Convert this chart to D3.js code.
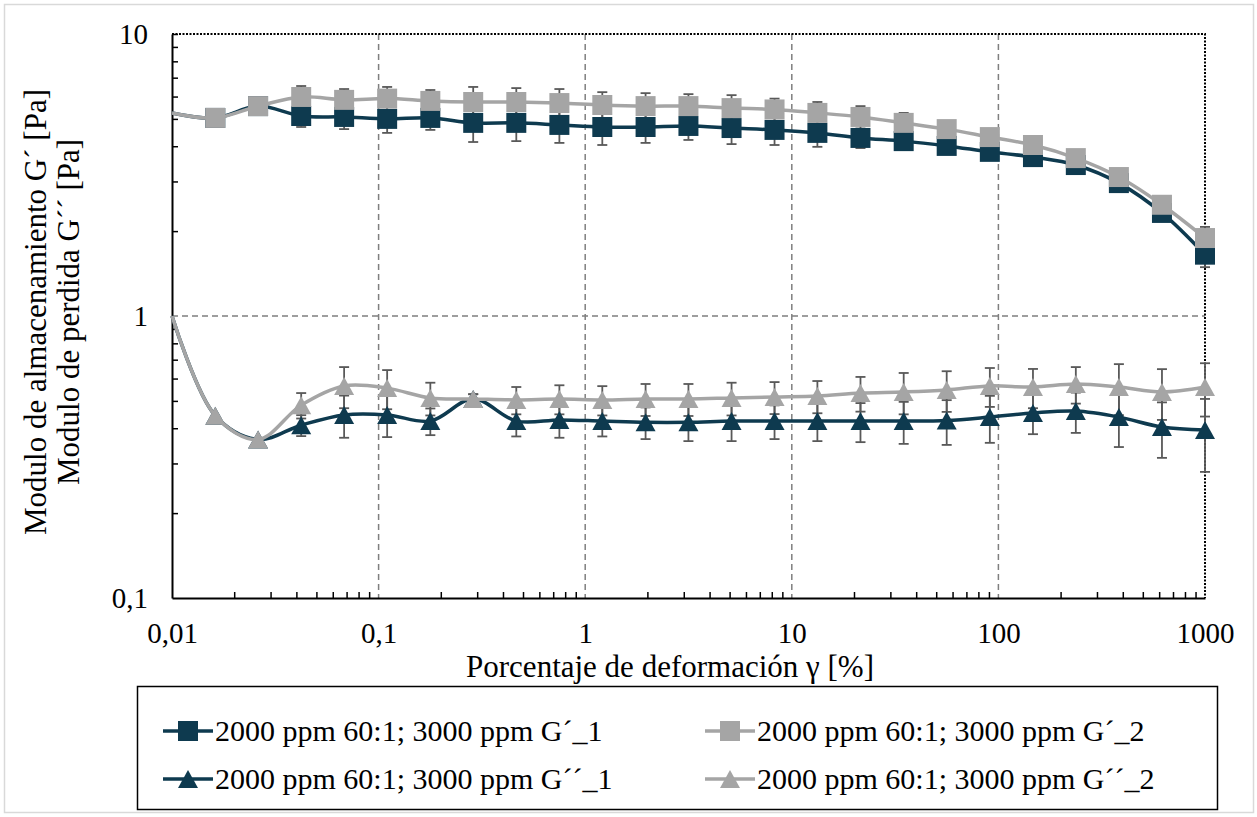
<!DOCTYPE html>
<html>
<head>
<meta charset="utf-8">
<script src="https://cdn.jsdelivr.net/npm/d3@7"></script>
<style>
  body { margin: 0; background: #fff; }
  svg text { font-family: "Liberation Serif", "Tinos", "Times New Roman", Times, "DejaVu Serif", "Noto Serif", serif; fill: #000; }
</style>
</head>
<body>
<div id="chart"></div>
<script>
// strain values (%)
const strain = [0.01, 0.0162, 0.0261, 0.0422, 0.0681, 0.110, 0.178, 0.287, 0.464, 0.750, 1.21, 1.96, 3.16, 5.11, 8.25, 13.3, 21.5, 34.8, 56.2, 90.9, 147, 237, 383, 619, 1000];
// storage modulus G' (Pa)
const gp1 = [5.25, 5.04, 5.55, 5.12, 5.08, 5.0, 5.04, 4.84, 4.84, 4.76, 4.68, 4.68, 4.72, 4.64, 4.57, 4.46, 4.28, 4.17, 4.01, 3.82, 3.66, 3.43, 2.96, 2.32, 1.65];
const gp2 = [5.25, 5.04, 5.55, 5.98, 5.84, 5.9, 5.79, 5.74, 5.74, 5.69, 5.6, 5.55, 5.55, 5.46, 5.4, 5.25, 5.08, 4.84, 4.6, 4.31, 4.04, 3.63, 3.11, 2.48, 1.89];
const gp1Err = [0, 0, 0, 0.44, 0.48, 0.54, 0.47, 0.7, 0.67, 0.65, 0.64, 0.57, 0.51, 0.57, 0.53, 0.48, 0.34, 0.29, 0.2, 0.1, 0.08, 0.05, 0.05, 0.08, 0.16];
const gp2Err = [0, 0, 0, 0.56, 0.54, 0.59, 0.54, 0.75, 0.69, 0.69, 0.62, 0.62, 0.57, 0.61, 0.5, 0.49, 0.47, 0.41, 0.25, 0.15, 0.1, 0.08, 0.08, 0.1, 0.18];
// loss modulus G'' (Pa)
const gpp1 = [1.0, 0.443, 0.365, 0.41, 0.446, 0.446, 0.424, 0.508, 0.424, 0.428, 0.424, 0.42, 0.42, 0.424, 0.424, 0.424, 0.424, 0.424, 0.426, 0.438, 0.453, 0.46, 0.438, 0.404, 0.394];
const gpp2 = [1.0, 0.443, 0.365, 0.483, 0.565, 0.555, 0.512, 0.508, 0.504, 0.508, 0.504, 0.508, 0.508, 0.512, 0.516, 0.52, 0.533, 0.538, 0.547, 0.565, 0.56, 0.574, 0.56, 0.538, 0.56];
const gpp1Err = [0, 0, 0, 0.035, 0.076, 0.074, 0.046, 0.02, 0.05, 0.058, 0.05, 0.054, 0.06, 0.064, 0.058, 0.064, 0.067, 0.072, 0.077, 0.083, 0.072, 0.075, 0.095, 0.09, 0.114];
const gpp2Err = [0, 0, 0, 0.05, 0.094, 0.088, 0.068, 0.02, 0.056, 0.06, 0.06, 0.066, 0.066, 0.068, 0.067, 0.068, 0.075, 0.09, 0.09, 0.089, 0.089, 0.085, 0.115, 0.11, 0.12];

const seriesNames = ["2000 ppm 60:1; 3000 ppm G´_1", "2000 ppm 60:1; 3000 ppm G´_2",
                     "2000 ppm 60:1; 3000 ppm G´´_1", "2000 ppm 60:1; 3000 ppm G´´_2"];
const xTicks = [0.01, 0.1, 1, 10, 100, 1000];
const yTicks = [0.1, 1, 10];

const dark = "#0e3a4f", light = "#a5a5a5", errColor = "#595959";
const series = [
  {name: seriesNames[0], vals: gp1, err: gp1Err, color: dark, shape: "square"},
  {name: seriesNames[1], vals: gp2, err: gp2Err, color: light, shape: "square"},
  {name: seriesNames[2], vals: gpp1, err: gpp1Err, color: dark, shape: "triangle"},
  {name: seriesNames[3], vals: gpp2, err: gpp2Err, color: light, shape: "triangle"}
];

const width = 1257, height = 817;
const plotL = 172, plotR = 1205, plotT = 34, plotB = 598;
const serif = '"Liberation Serif", "Tinos", "Times New Roman", Times, "DejaVu Serif", "Noto Serif", serif';

const svg = d3.select("#chart").append("svg")
    .attr("width", width).attr("height", height)
    .attr("font-family", serif);

svg.append("rect").attr("x", 4.5).attr("y", 4.5).attr("width", 1249).attr("height", 808)
    .attr("fill", "#fff").attr("stroke", "#d9d9d9").attr("stroke-width", 1.5);

const x = d3.scaleLog().domain([0.01, 1000]).range([plotL, plotR]);
const y = d3.scaleLog().domain([0.1, 10]).range([plotB, plotT]);
const comma = d => String(d).replace(".", ",");

// grid
svg.append("g").selectAll("line").data([0.1, 1, 10, 100]).enter().append("line")
    .attr("x1", d => x(d)).attr("x2", d => x(d)).attr("y1", plotT).attr("y2", plotB)
    .attr("stroke", "#7f7f7f").attr("stroke-width", 1.5).attr("stroke-dasharray", "6,4");
svg.append("line").attr("x1", plotL).attr("x2", plotR).attr("y1", y(1)).attr("y2", y(1))
    .attr("stroke", "#7f7f7f").attr("stroke-width", 1.5).attr("stroke-dasharray", "6,4");
// dotted top/right frame
svg.append("path").attr("d", `M${plotL},${y(10)}H${x(1000)}V${plotB}`)
    .attr("fill", "none").attr("stroke", "#000").attr("stroke-width", 2).attr("stroke-dasharray", "2,1.5");

// minor ticks (inward)
const minorX = [], minorY = [];
[0.01, 0.1, 1, 10, 100].forEach(d => { for (let k = 2; k <= 9; k++) minorX.push(d * k); });
[0.1, 1].forEach(d => { for (let k = 2; k <= 9; k++) minorY.push(d * k); });
minorY.push(10);

svg.append("g").attr("transform", `translate(${plotL},0)`)
    .call(d3.axisRight(y).tickValues(minorY).tickSize(6).tickSizeOuter(0).tickFormat(""))
    .call(g => g.selectAll("line").attr("stroke", "#000").attr("stroke-width", 1.5))
    .call(g => g.select(".domain").attr("stroke", "#000").attr("stroke-width", 2));
svg.append("g").attr("transform", `translate(0,${plotB})`)
    .call(d3.axisTop(x).tickValues(minorX).tickSize(6).tickSizeOuter(0).tickFormat(""))
    .call(g => g.selectAll("line").attr("stroke", "#000").attr("stroke-width", 1.5))
    .call(g => g.select(".domain").attr("stroke", "#000").attr("stroke-width", 2));

// tick labels
svg.append("g").attr("transform", `translate(${plotL},0)`)
    .call(d3.axisLeft(y).tickValues(yTicks).tickSize(0).tickPadding(24).tickFormat(comma))
    .attr("font-family", serif).attr("font-size", 29)
    .call(g => g.select(".domain").remove());
svg.append("g").attr("transform", `translate(0,${plotB})`)
    .call(d3.axisBottom(x).tickValues(xTicks).tickSize(0).tickPadding(24).tickFormat(comma))
    .attr("font-family", serif).attr("font-size", 29)
    .call(g => g.select(".domain").remove());

// axis titles
svg.append("text").attr("x", 670).attr("y", 677).attr("text-anchor", "middle")
    .attr("font-size", 31).text("Porcentaje de deformación γ [%]");
const yt = svg.append("g").attr("transform", "translate(35,312) rotate(-90)");
yt.append("text").attr("text-anchor", "middle").attr("dy", "0.35em")
    .attr("font-size", 31).text("Modulo de almacenamiento G´ [Pa]");
yt.append("text").attr("text-anchor", "middle").attr("dy", "0.35em").attr("y", 33)
    .attr("font-size", 31).text("Modulo de perdida G´´ [Pa]");

const markerPath = shape => shape === "square"
  ? "M-10,-10H10V10H-10Z"
  : "M0,-9L10,9H-10Z";

// error bars
series.forEach(s => {
  const g = svg.append("g").attr("stroke", errColor).attr("stroke-width", 1.8);
  s.vals.forEach((v, i) => {
    if (!s.err[i]) return;
    const cx = x(strain[i]), y1 = y(v + s.err[i]), y2 = y(v - s.err[i]);
    g.append("line").attr("x1", cx).attr("x2", cx).attr("y1", y1).attr("y2", y2);
    g.append("line").attr("x1", cx - 5).attr("x2", cx + 5).attr("y1", y1).attr("y2", y1);
    g.append("line").attr("x1", cx - 5).attr("x2", cx + 5).attr("y1", y2).attr("y2", y2);
  });
});

// lines + markers
const line = d3.line().x((d, i) => x(strain[i])).y(d => y(d)).curve(d3.curveCatmullRom.alpha(0.5));
series.forEach(s => {
  svg.append("path").datum(s.vals).attr("d", line)
      .attr("fill", "none").attr("stroke", s.color).attr("stroke-width", 3.5);
  svg.append("g").selectAll("path").data(s.vals.slice(1)).enter().append("path")
      .attr("d", markerPath(s.shape))
      .attr("transform", (d, i) => `translate(${x(strain[i + 1])},${y(d)})`)
      .attr("fill", s.color);
});

// legend
svg.append("rect").attr("x", 137.5).attr("y", 686.5).attr("width", 1080).attr("height", 123)
    .attr("fill", "none").attr("stroke", "#000").attr("stroke-width", 1.5);
const legPos = [[163, 731], [705, 731], [163, 779], [705, 779]];
series.forEach((s, i) => {
  const [lx, ly] = legPos[i];
  const g = svg.append("g").attr("transform", `translate(${lx},${ly})`);
  g.append("line").attr("x1", 0).attr("x2", 50).attr("stroke", s.color).attr("stroke-width", 3.5);
  g.append("path").attr("d", markerPath(s.shape)).attr("transform", "translate(25,0)").attr("fill", s.color);
  g.append("text").attr("x", 52).attr("dy", "0.33em").attr("font-size", 30).text(s.name);
});
</script>
</body>
</html>
